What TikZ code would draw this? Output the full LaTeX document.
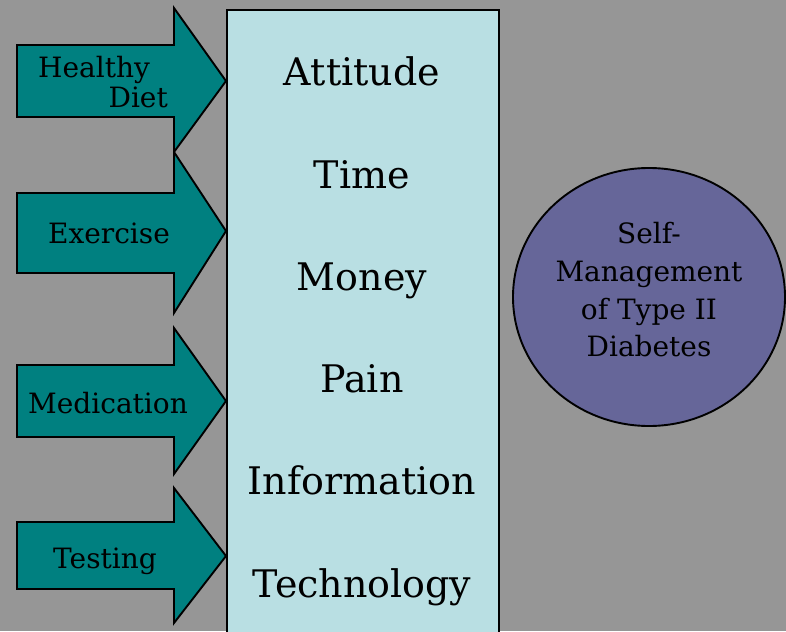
\documentclass[tikz,border=0pt]{standalone}
\usepackage{fontspec}
\setmainfont{DejaVu Serif}
\usetikzlibrary{shapes.geometric}

\definecolor{bggray}{RGB}{150,150,150}
\definecolor{tealarrow}{RGB}{0,128,128}
\definecolor{boxblue}{RGB}{185,223,227}
\definecolor{goalpurple}{RGB}{102,102,153}

\tikzset{
  outline/.style={draw=black,line width=1.9pt,line join=miter},
  blockarrow/.style={outline,fill=tealarrow},
  factor/.style={anchor=base,inner sep=0pt,font=\fontsize{38}{44}\selectfont},
  habit/.style={anchor=base,inner sep=0pt,font=\fontsize{28}{30}\selectfont}
}

\begin{document}
\begin{tikzpicture}[x=1pt,y=1pt]
  % Background
  \fill[bggray] (0,0) rectangle (786,-631);
  \useasboundingbox (0,0) rectangle (786,-631);
  \clip (0,0) rectangle (786,-631);

  % Block arrows on the left
  \foreach \headtop/\shafttop/\tipy/\shaftbot/\headbot in
      {8/45/81/117/152, 152/193/231/273/313, 328/365/401/437/474, 488/522/556/589/623}{
    \draw[blockarrow] (17,-\shafttop) -- (174,-\shafttop) -- (174,-\headtop)
      -- (226,-\tipy) -- (174,-\headbot) -- (174,-\shaftbot) -- (17,-\shaftbot) -- cycle;
  }

  % Arrow labels
  \node[habit,anchor=base west] (healthy) at (38,-78) {Healthy};
  \node[habit,anchor=base east] (diet) at (168,-108) {Diet};
  \node[habit] (exercise) at (109,-243) {Exercise};
  \node[habit] (medication) at (108,-413) {Medication};
  \node[habit] (testing) at (105,-568) {Testing};

  % Box of factors
  \node[outline,fill=boxblue,anchor=north west,minimum width=272pt,
        minimum height=640pt,inner sep=0pt] (factors) at (226,-9) {};
  \foreach \word [count=\i from 0] in {Attitude,Time,Money,Pain,Information,Technology}{
    \node[factor] (word\i) at (362,{-86-102.2*\i}) {\word};
  }

  % Goal ellipse
  \node[outline,fill=goalpurple,ellipse,minimum width=272pt,minimum height=258pt,
        inner sep=0pt] (goal) at (649,-297) {};
  \node[align=center,font=\fontsize{28}{37.7}\selectfont] (goaltext) at (649,-290)
    {Self-\\Management\\of Type II\\Diabetes};
\end{tikzpicture}
\end{document}
